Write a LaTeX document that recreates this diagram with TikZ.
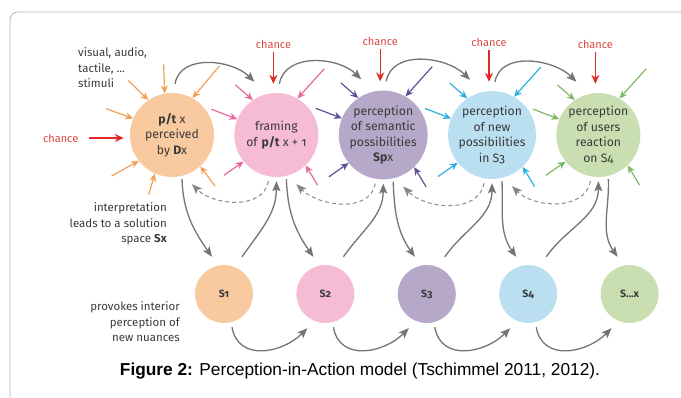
\documentclass[tikz,border=0pt]{standalone}
\usepackage{fontspec}
\setmainfont{Fira Sans}[Numbers=OldStyle]
\newfontfamily\captionfont{Liberation Sans}
\usetikzlibrary{positioning, arrows.meta}

\definecolor{txtgray}{HTML}{3A3A3A}
\definecolor{framegray}{HTML}{B4B4B4}
\definecolor{chancered}{HTML}{D9463E}
\definecolor{arrowred}{HTML}{E02A24}
\definecolor{flowgray}{HTML}{747474}
\definecolor{orangefill}{HTML}{F9C9A0}
\definecolor{orangeline}{HTML}{F0A155}
\definecolor{pinkfill}{HTML}{F6BCD5}
\definecolor{pinkline}{HTML}{E8679C}
\definecolor{purplefill}{HTML}{B6A8C8}
\definecolor{purpleline}{HTML}{5D5096}
\definecolor{bluefill}{HTML}{BADFF1}
\definecolor{blueline}{HTML}{2EB0E0}
\definecolor{greenfill}{HTML}{C9DFB2}
\definecolor{greenline}{HTML}{7DB963}

\begin{document}
\begin{tikzpicture}[
    x=1pt, y=1pt,
    font=\fontsize{11}{15.5}\selectfont,
    text=txtgray,
    phase/.style={
        circle,
        minimum size=84pt,
        inner sep=0pt,
        align=center,
        font=\fontsize{12.2}{15.5}\selectfont
    },
    space/.style={
        circle,
        minimum size=58pt,
        inner sep=0pt,
        font=\fontsize{10.5}{12}\selectfont\bfseries
    },
    note/.style={
        inner sep=0pt,
        align=right,
        font=\fontsize{11.5}{15.5}\selectfont
    },
    chance/.style={
        text=chancered
    },
    chanceArrow/.style={
        draw=arrowred,
        line width=1.4pt,
        -{Stealth[length=9pt, width=8pt]}
    },
    flow/.style={
        draw=flowgray,
        line width=1.3pt,
        -{Stealth[length=10pt, width=8pt, inset=2pt]}
    },
    backFlow/.style={
        flow,
        draw=flowgray!85,
        line width=1pt,
        dash pattern=on 4pt off 3pt
    },
    stim/.style={
        line width=1.2pt,
        -{Stealth[length=8pt, width=7pt]}
    }
]
\useasboundingbox (0,0) rectangle (681,-398);

% --- Frame ---
\draw[framegray, line width=0.8pt, rounded corners=8pt] (10,-398) -- (10,-12) -- (681,-12);

% --- Perception phases (top row) ---
\node[phase, fill=orangefill] (c1) at (172,-135) {\textbf{p/t} x\\perceived\\by \textbf{D}x};
\node[phase, fill=pinkfill, right=20pt of c1] (c2) {framing\\of \textbf{p/t} x + 1};
\node[phase, fill=purplefill, right=20pt of c2] (c3) {perception\\of semantic\\possibilities\\\textbf{Sp}x};
\node[phase, fill=bluefill, right=20pt of c3] (c4) {perception\\of new\\possibilities\\in S3};
\node[phase, fill=greenfill, right=20pt of c4] (c5) {perception\\of users\\reaction\\on S4};

% --- Solution spaces (bottom row) ---
\node[space, fill=orangefill] (s1) at (224,-294) {S1};
\node[space, fill=pinkfill, right=43pt of s1] (s2) {S2};
\node[space, fill=purplefill, right=43pt of s2] (s3) {S3};
\node[space, fill=bluefill, right=43pt of s3] (s4) {S4};
\node[space, fill=greenfill, right=43pt of s4] (s5) {S...x};

% --- Side notes ---
\node[note, align=left, anchor=west] (stimuli) at (78,-68) {visual, audio,\\tactile, ...\\stimuli};
\node[note, anchor=east] (interp) at (167,-224) {interpretation\\leads to a solution\\space \textbf{Sx}};
\node[note, anchor=east] (provokes) at (180,-322) {provokes interior\\perception of\\new nuances};

% --- Chance ---
\node[chance, left=48pt of c1, yshift=-3pt] (chL) {chance};
\draw[chanceArrow, shorten <=7pt, shorten >=6pt] (chL) -- (chL -| c1.west);
\foreach \c in {c2,c3,c4,c5}{
    \node[chance, above=41pt of \c, xshift=-3pt] (ch-\c) {chance};
    \draw[chanceArrow] (ch-\c.south) -- ([xshift=-3pt, yshift=9pt]\c.north);
}

% --- Stimuli arrows ---
\foreach \t/\d/\l in {100/92/29, 124/136/28, 61/50/42, 157/160/29, 218/209/31, 246/254/22, -48/-53/25}
    \draw[stim, draw=orangeline] (c1.\t) ++(\d:\l pt) -- (c1.\t);
\foreach \c/\col in {c2/pinkline, c3/purpleline, c4/blueline, c5/greenline}
    \foreach \t/\d/\l in {124/139/23, 158/159/28, 219/215/24, 60/48/40, -46/-59/23}
        \draw[stim, draw=\col] (\c.\t) ++(\d:\l pt) -- (\c.\t);

% --- Flow between phases ---
\foreach \a/\b in {c1/c2, c2/c3, c3/c4, c4/c5}
    \draw[flow] ([shift={(3pt,9pt)}]\a.north) to[out=80, in=135] ([shift={(-22pt,11pt)}]\b.north);
\foreach \a/\b in {c1/s1, c2/s2, c3/s3, c4/s4, c5/s5}
    \draw[flow] ([shift={(10pt,-2pt)}]\a.south) to[out=-88, in=125] ([shift={(-12pt,8pt)}]\b.north);
\foreach \a/\b in {s1/c2, s2/c3, s3/c4, s4/c5}
    \draw[flow] ([shift={(18pt,8pt)}]\a.north) to[out=55, in=-90] ([yshift=-4pt]\b.south);
\foreach \a/\b in {c2/c1, c3/c2, c4/c3, c5/c4}
    \draw[backFlow] ([shift={(-8pt,-4pt)}]\a.south) to[out=-100, in=-45] ([shift={(20pt,-7pt)}]\b.south);
\foreach \a/\b in {s1/s2, s2/s3, s3/s4, s4/s5}
    \draw[flow] ([shift={(8pt,-4pt)}]\a.south) to[out=-80, in=-135, looseness=1.2] ([shift={(-18pt,-5pt)}]\b.south);

% --- Caption ---
\node[font=\captionfont\fontsize{17.3}{20}\selectfont, text=black, anchor=base] (caption) at (360,-376)
    {\textbf{Figure 2:} Perception-in-Action model (Tschimmel 2011, 2012).};

\end{tikzpicture}
\end{document}
